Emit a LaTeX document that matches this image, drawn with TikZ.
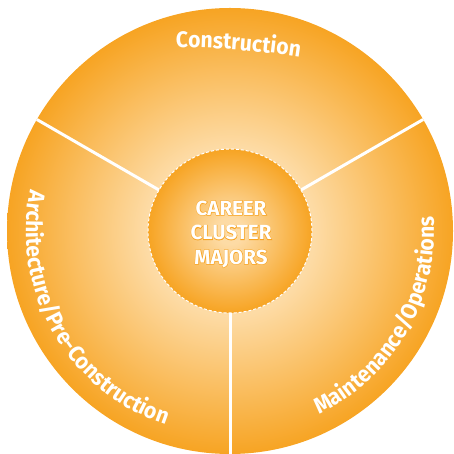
\documentclass[tikz,border=0pt]{standalone}
\usepackage{fontspec}
\setmainfont{Fira Sans}
\newfontfamily\lblfam{Fira Sans}[FakeStretch=0.94]
\newfontfamily\hubfam{Fira Sans}[BoldFeatures={FakeBold=5}]
\usetikzlibrary{decorations.text}
\definecolor{orng}{HTML}{F7A423}
\definecolor{lite}{HTML}{FDDBA5}
\pgfdeclareradialshading{ringshade}{\pgfpoint{0bp}{0bp}}{color(0bp)=(lite); color(9.5bp)=(lite); color(25bp)=(orng); color(50bp)=(orng)}
\pgfdeclareradialshading{hubshade}{\pgfpoint{0bp}{0bp}}{color(0bp)=(lite); color(4bp)=(lite); color(25bp)=(orng); color(50bp)=(orng)}
\newcommand\lblfont{\lblfam\fontsize{22.5}{22.5}\selectfont\bfseries}
\newcommand\hubwords{CAREER\\CLUSTER\\MAJORS}
\tikzset{
  spoke/.style={draw=white, line width=3pt},
  hubbase/.style={align=center, inner sep=0pt},
  hubedge/.style={hubbase, text=orng, font=\hubfam\fontsize{20.5}{24.5}\selectfont\bfseries},
  hubfill/.style={hubbase, text=white, font=\fontsize{20.5}{24.5}\selectfont\bfseries},
  lbl/.style={decorate, decoration={text along path, text color=white, #1}},
}
\begin{document}
\begin{tikzpicture}[x=1pt,y=1pt]
\useasboundingbox (0,0) rectangle (453,454);
\coordinate (c) at (230,223);
\coordinate (hc) at (231,220);
\node[circle, inner sep=0pt, outer sep=0pt, minimum size=446pt, shade, shading=ringshade] (rim) at (c) {};
\node[circle, inner sep=0pt, outer sep=0pt, minimum size=164pt, shade, shading=hubshade] (hub) at (c) {};
\draw[spoke] (hub.150) -- (rim.150);
\draw[spoke] (hub.30) -- (rim.30);
\draw[spoke] (hub.270) -- (rim.270);
\draw[white, line width=1pt, dash pattern=on 3pt off 2pt] (c) circle[radius=82pt];
\node[hubedge] (hubout) at (hc) {\hubwords};
\node[hubfill] (hubtxt) at (hc) {\hubwords};
\path[lbl={text={|\lblfont|Construction}}] (175.9,406.3) arc[start angle=90.15, end angle=80, radius=800pt];
\path[lbl={text align=center, text={|\lblfont|Architecture/Pre-Construction}}] ([shift={(150:204pt)}]c) arc[start angle=150, end angle=270, radius=204pt];
\path[lbl={text align=center, text={|\lblfont|Maintenance/Operations}}] ([shift={(-90:204pt)}]c) arc[start angle=-90, end angle=30, radius=204pt];
\end{tikzpicture}
\end{document}
